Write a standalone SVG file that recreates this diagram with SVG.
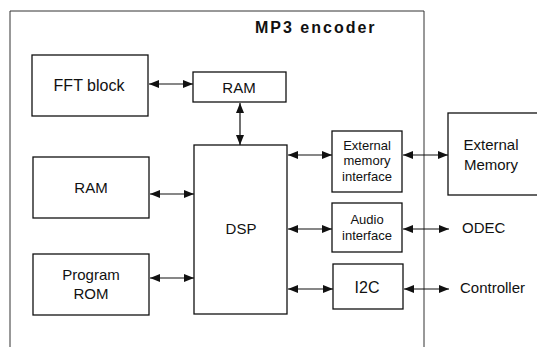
<svg xmlns="http://www.w3.org/2000/svg" width="537" height="347" viewBox="0 0 537 347">
<defs>
<marker id="ah" viewBox="0 0 10 8" refX="10" refY="4" markerWidth="10" markerHeight="8" markerUnits="userSpaceOnUse" orient="auto-start-reverse">
<path d="M0,0 L10,4 L0,8 Z" fill="#111"/>
</marker>
<style>
.b{fill:#fff;stroke:#111;stroke-width:1.3}
.t{font-family:"Liberation Sans",Arial,sans-serif;fill:#111;text-anchor:middle}
.c{stroke:#111;stroke-width:1.2;fill:none;marker-start:url(#ah);marker-end:url(#ah)}
</style>
</defs>
<rect width="537" height="347" fill="#fff"/>
<g id="encoder">
<path d="M10,350 L10,11 L424,11 L424,350" fill="none" stroke="#333" stroke-width="1"/>
<text x="255" y="33" font-family="Liberation Sans,Arial,sans-serif" font-size="16" font-weight="bold" letter-spacing="2" fill="#111">MP3 encoder</text>
</g>
<g id="fft"><rect class="b" x="32" y="55" width="116" height="61"/><text class="t" x="89" y="91" font-size="16">FFT block</text></g>
<g id="ram1"><rect class="b" x="193" y="72" width="93" height="30"/><text class="t" x="239" y="93" font-size="15">RAM</text></g>
<g id="ram2"><rect class="b" x="33" y="157" width="116" height="61"/><text class="t" x="91" y="193" font-size="15">RAM</text></g>
<g id="rom"><rect class="b" x="33" y="254" width="116" height="61"/><text class="t" x="91" y="280" font-size="15">Program</text><text class="t" x="91" y="299" font-size="15">ROM</text></g>
<g id="dsp"><rect class="b" x="194" y="145" width="93" height="169"/><text class="t" x="241" y="234" font-size="15">DSP</text></g>
<g id="emi"><rect class="b" x="332" y="131" width="70" height="61"/><text class="t" x="367" y="150" font-size="13">External</text><text class="t" x="367" y="165" font-size="13">memory</text><text class="t" x="367" y="181" font-size="13">interface</text></g>
<g id="audio"><rect class="b" x="332" y="203" width="70" height="49"/><text class="t" x="367" y="224" font-size="13">Audio</text><text class="t" x="367" y="240" font-size="13">interface</text></g>
<g id="i2c"><rect class="b" x="333" y="264" width="70" height="45"/><text class="t" x="367" y="293" font-size="16">I2C</text></g>
<g id="extmem"><rect class="b" x="448" y="113" width="100" height="82"/><text class="t" x="491" y="150" font-size="15">External</text><text class="t" x="491" y="170" font-size="15">Memory</text></g>
<g id="odec"><text x="462" y="233" font-family="Liberation Sans,Arial,sans-serif" font-size="15" fill="#111">ODEC</text></g>
<g id="controller"><text x="460" y="293" font-family="Liberation Sans,Arial,sans-serif" font-size="15" fill="#111">Controller</text></g>
<g id="connectors">
<line class="c" x1="149" y1="84" x2="193" y2="84"/>
<line class="c" x1="240" y1="103" x2="240" y2="145"/>
<line class="c" x1="150" y1="194" x2="194" y2="194"/>
<line class="c" x1="150" y1="278" x2="194" y2="278"/>
<line class="c" x1="288" y1="155" x2="332" y2="155"/>
<line class="c" x1="403" y1="155" x2="448" y2="155"/>
<line class="c" x1="288" y1="229" x2="332" y2="229"/>
<line class="c" x1="403" y1="229" x2="449" y2="229"/>
<line class="c" x1="288" y1="289" x2="333" y2="289"/>
<line class="c" x1="404" y1="289" x2="449" y2="289"/>
</g>
</svg>
